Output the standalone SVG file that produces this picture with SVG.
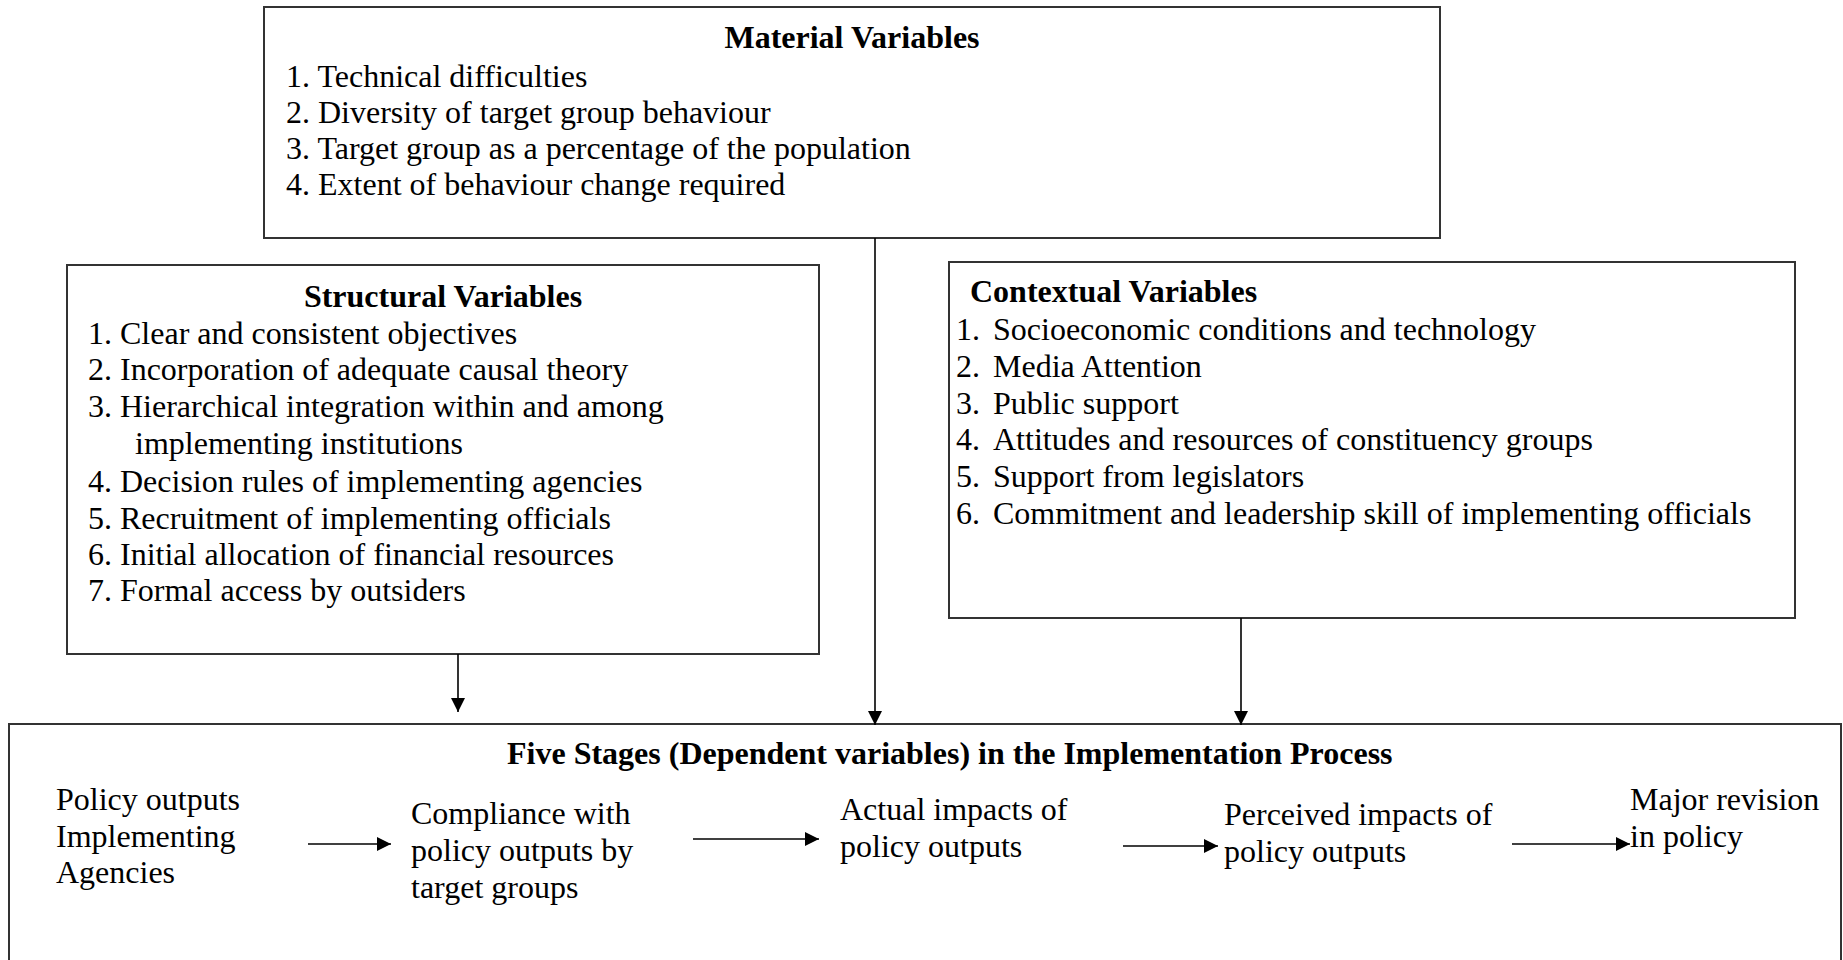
<svg xmlns="http://www.w3.org/2000/svg" width="1843" height="960" viewBox="0 0 1843 960">
<style>
.box{fill:#fff;stroke:#333;stroke-width:2}
.t{font-family:"Liberation Serif","Times New Roman",serif;font-size:32px;fill:#000}
.b{font-weight:bold}
.c{stroke:#000;stroke-width:1.6;fill:none}
</style>
<defs>
<marker id="av" viewBox="0 0 14 14" refX="14" refY="7" markerWidth="14" markerHeight="14" markerUnits="userSpaceOnUse" orient="auto">
<path d="M0,0 L14,7 L0,14 z" fill="#000"/>
</marker>
</defs>
<rect width="1843" height="960" fill="#fff"/>

<g id="stages">
<rect class="box" x="9" y="724" width="1832" height="240"/>
<text class="t b" x="507" y="764">Five Stages (Dependent variables) in the Implementation Process</text>
<text class="t" x="56" y="810">Policy outputs</text>
<text class="t" x="56" y="847">Implementing</text>
<text class="t" x="56" y="883">Agencies</text>
<text class="t" x="411" y="824">Compliance with</text>
<text class="t" x="411" y="861">policy outputs by</text>
<text class="t" x="411" y="898">target groups</text>
<text class="t" x="840" y="820">Actual impacts of</text>
<text class="t" x="840" y="857">policy outputs</text>
<text class="t" x="1224" y="825">Perceived impacts of</text>
<text class="t" x="1224" y="862">policy outputs</text>
<text class="t" x="1630" y="810">Major revision</text>
<text class="t" x="1630" y="847">in policy</text>
</g>

<g id="material">
<rect class="box" x="264" y="7" width="1176" height="231"/>
<text class="t b" x="852" y="48" text-anchor="middle">Material Variables</text>
<text class="t" x="286" y="87">1. Technical difficulties</text>
<text class="t" x="286" y="123">2. Diversity of target group behaviour</text>
<text class="t" x="286" y="159">3. Target group as a percentage of the population</text>
<text class="t" x="286" y="195">4. Extent of behaviour change required</text>
</g>

<g id="structural">
<rect class="box" x="67" y="265" width="752" height="389"/>
<text class="t b" x="443" y="307" text-anchor="middle">Structural Variables</text>
<text class="t" x="88" y="344">1. Clear and consistent objectives</text>
<text class="t" x="88" y="380">2. Incorporation of adequate causal theory</text>
<text class="t" x="88" y="417">3. Hierarchical integration within and among</text>
<text class="t" x="135" y="454">implementing institutions</text>
<text class="t" x="88" y="492">4. Decision rules of implementing agencies</text>
<text class="t" x="88" y="529">5. Recruitment of implementing officials</text>
<text class="t" x="88" y="565">6. Initial allocation of financial resources</text>
<text class="t" x="88" y="601">7. Formal access by outsiders</text>
</g>

<g id="contextual">
<rect class="box" x="949" y="262" width="846" height="356"/>
<text class="t b" x="970" y="302">Contextual Variables</text>
<text class="t" x="956" y="340">1.<tspan x="993">Socioeconomic conditions and technology</tspan></text>
<text class="t" x="956" y="377">2.<tspan x="993">Media Attention</tspan></text>
<text class="t" x="956" y="414">3.<tspan x="993">Public support</tspan></text>
<text class="t" x="956" y="450">4.<tspan x="993">Attitudes and resources of constituency groups</tspan></text>
<text class="t" x="956" y="487">5.<tspan x="993">Support from legislators</tspan></text>
<text class="t" x="956" y="524">6.<tspan x="993">Commitment and leadership skill of implementing officials</tspan></text>
</g>

<g id="connectors">
<line class="c" x1="458" y1="654" x2="458" y2="712" marker-end="url(#av)"/>
<line class="c" x1="875" y1="238" x2="875" y2="725" marker-end="url(#av)"/>
<line class="c" x1="1241" y1="618" x2="1241" y2="725" marker-end="url(#av)"/>
<line class="c" x1="308" y1="844" x2="391" y2="844" marker-end="url(#av)"/>
<line class="c" x1="693" y1="839" x2="819" y2="839" marker-end="url(#av)"/>
<line class="c" x1="1123" y1="846" x2="1218" y2="846" marker-end="url(#av)"/>
<line class="c" x1="1512" y1="844" x2="1630" y2="844" marker-end="url(#av)"/>
</g>
</svg>
